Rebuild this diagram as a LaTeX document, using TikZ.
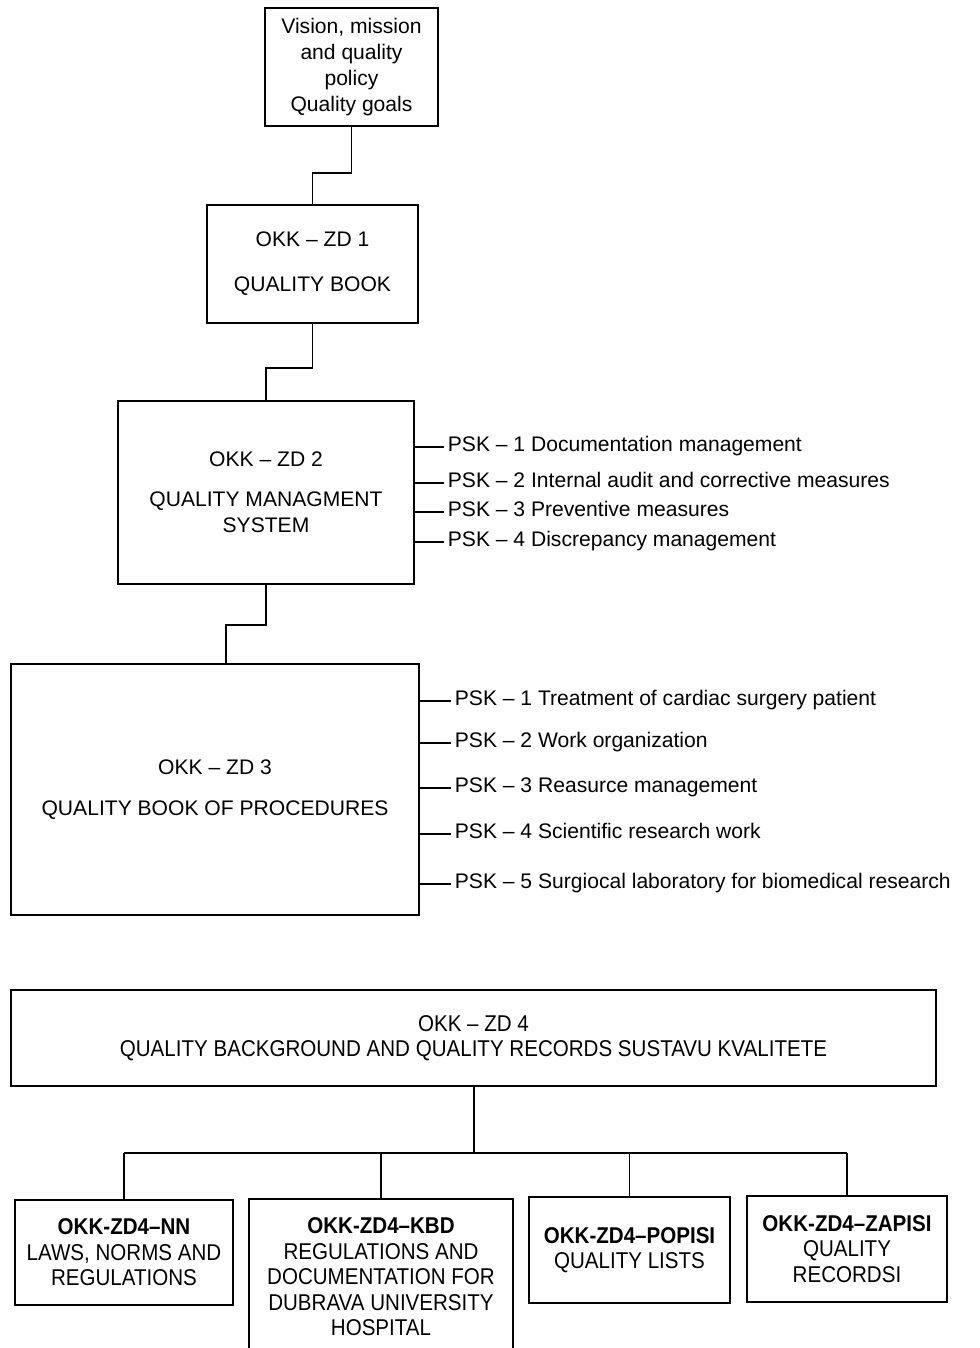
\documentclass[tikz,border=0pt]{standalone}
\usepackage{fontspec}
\setmainfont{Liberation Sans}
\newfontfamily\condfont[Ligatures=TeX,FakeStretch=0.9]{Liberation Sans}

\begin{document}
\begin{tikzpicture}[x=0.2mm,y=-0.2mm,
    every node/.style={font=\fontsize{12}{14.7}\selectfont},
    box/.style={draw,line width=1pt,inner sep=0pt,align=center},
    sub/.style={box,font=\condfont\fontsize{13}{14.5}\selectfont},
    item/.style={anchor=mid west,inner sep=2pt},
    line/.style={line width=1pt}]

    \useasboundingbox (0,0) rectangle (980,1348);

    % Vertice
    \node[box,minimum width=34.6mm,minimum height=23.6mm] (vision) at (351.5,67)
        {Vision, mission\\and quality\\policy\\Quality goals};

    % Libro della qualita
    \node[box,minimum width=42.2mm,minimum height=23.6mm] (zd1) at (312.5,264)
        {OKK -- ZD 1\\[10.8pt]QUALITY BOOK};

    % Sistema di gestione
    \node[box,minimum width=59.2mm,minimum height=36.6mm] (zd2) at (266,492.5)
        {OKK -- ZD 2\\[8pt]QUALITY MANAGMENT\\SYSTEM};

    % Procedure
    \node[box,minimum width=81.6mm,minimum height=50.2mm] (zd3) at (215,789.5)
        {OKK -- ZD 3\\[9pt]QUALITY BOOK OF PROCEDURES};

    % Collegamenti verticali
    \coordinate (j1) at (312.5,173);
    \coordinate (j2) at (266,368);
    \coordinate (j3) at (226,625);
    \draw[line] (vision.south) |- (j1) -- (zd1.north);
    \draw[line] (zd1.south) |- (j2) -- (zd2.north);
    \draw[line] (zd2.south) |- (j3) -- (j3 |- zd3.north);

    % PSK del sistema
    \foreach \i/\y/\t in {1/447/Documentation management,
                          2/483/Internal audit and corrective measures,
                          3/512/Preventive measures,
                          4/542/Discrepancy management}{
        \node[item] (a\i) at (444,\y) {PSK -- \i\ \t};
        \draw[line] (zd2.east |- a\i.mid west) -- (a\i.mid west);
    }

    % PSK delle procedure
    \foreach \i/\y/\t in {1/701/Treatment of cardiac surgery patient,
                          2/743/Work organization,
                          3/788/Reasurce management,
                          4/834/Scientific research work,
                          5/884/Surgiocal laboratory for biomedical research}{
        \node[item] (b\i) at (451,\y) {PSK -- \i\ \t};
        \draw[line] (zd3.east |- b\i.mid west) -- (b\i.mid west);
    }

    % Documentazione e registrazioni
    \node[sub,minimum width=185mm,minimum height=19.2mm] (zd4) at (473.5,1038)
        {OKK -- ZD 4\\QUALITY BACKGROUND AND QUALITY RECORDS SUSTAVU KVALITETE};

    \node[sub,minimum width=43.6mm,minimum height=21mm] (nn) at (124,1252.5)
        {\textbf{OKK-ZD4--NN}\\LAWS, NORMS AND\\REGULATIONS};
    \node[sub,draw=none,minimum width=52.4mm,minimum height=30.8mm,anchor=north] (kbd) at (381,1199)
        {\textbf{OKK-ZD4--KBD}\\REGULATIONS AND\\DOCUMENTATION FOR\\DUBRAVA UNIVERSITY\\HOSPITAL};
    \draw[line] (kbd.south west) -- (kbd.north west) -- (kbd.north east) -- (kbd.south east);
    \node[sub,minimum width=40.2mm,minimum height=21.2mm] (popisi) at (629.5,1250)
        {\textbf{OKK-ZD4--POPISI}\\QUALITY LISTS};
    \node[sub,minimum width=40mm,minimum height=21.2mm] (zapisi) at (847,1249)
        {\textbf{OKK-ZD4--ZAPISI}\\QUALITY\\RECORDSI};

    % Albero in basso
    \coordinate (bus) at (474,1153);
    \draw[line] (zd4.south -| bus) -- (bus);
    \draw[line] (nn.north |- bus) -- (zapisi.north |- bus);
    \foreach \n in {nn,kbd,popisi,zapisi}{
        \draw[line] (\n.north |- bus) -- (\n.north);
    }

\end{tikzpicture}
\end{document}
